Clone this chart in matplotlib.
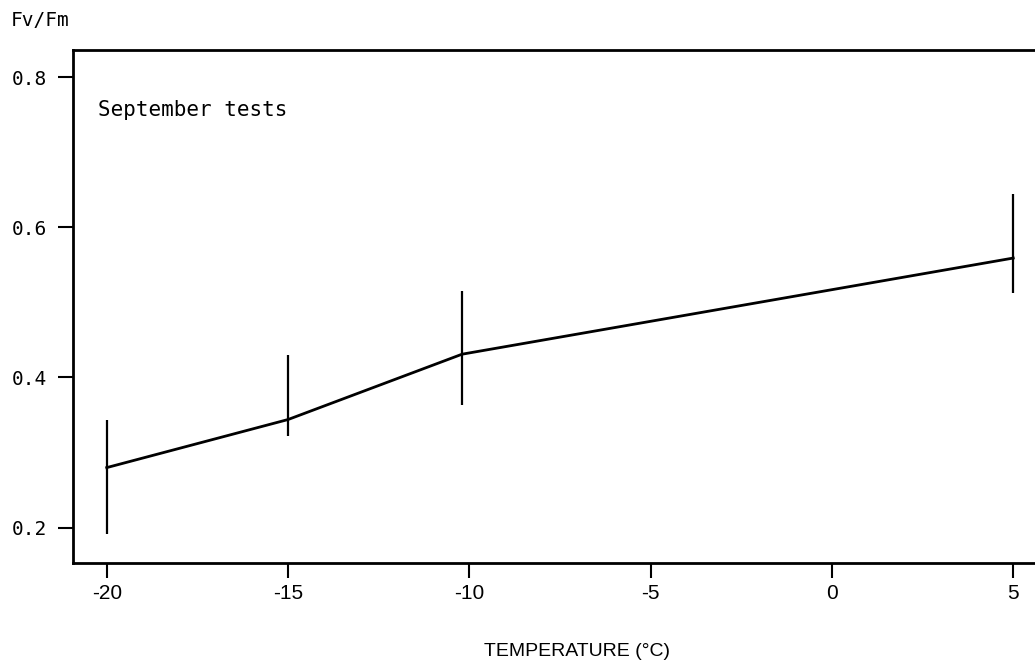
import matplotlib
matplotlib.use("Agg")
from matplotlib import pyplot as plt

# temperature (deg C) and Fv/Fm mean with error bar ends
temp = [-20, -15, -10.2, 5]
fvfm = [0.280, 0.344, 0.431, 0.559]
err_lo = [0.192, 0.322, 0.364, 0.513]
err_hi = [0.344, 0.430, 0.515, 0.644]

xticks = [-20, -15, -10, -5, 0, 5]
xticklabels = ["-20", "-15", "-10", "-5", "0", "5"]
yticks = [0.2, 0.4, 0.6, 0.8]
yticklabels = ["0.2", "0.4", "0.6", "0.8"]

fig = plt.figure(figsize=(10.35, 6.69), dpi=100)
ax = fig.add_axes([73/1035, 1 - 563/669, 1 - 73/1035, (563 - 50)/669])

ax.plot(temp, fvfm, color="black", lw=2.0)
ax.vlines(temp, err_lo, err_hi, color="black", lw=1.6)

ax.set_xlim(-20.93, 5.6)
ax.set_ylim(0.153, 0.836)

ax.spines["right"].set_visible(False)
for s in ["left", "bottom", "top"]:
    ax.spines[s].set_linewidth(2.0)

ax.set_xticks(xticks)
ax.set_xticklabels(xticklabels, fontfamily="Liberation Sans", fontsize=15)
ax.set_yticks(yticks)
ax.set_yticklabels(yticklabels, fontfamily="DejaVu Sans Mono", fontsize=14)
ax.tick_params(axis="x", direction="out", length=11, width=1.5, pad=4)
ax.tick_params(axis="y", direction="out", length=11, width=1.5, pad=8)

ax.text(0.026, 0.883, "September tests", transform=ax.transAxes,
        fontfamily="DejaVu Sans Mono", fontsize=15, va="center", ha="left")

fig.text(11/1035, 1 - 21/669, "Fv/Fm", fontfamily="DejaVu Sans Mono",
         fontsize=14, ha="left", va="center")
fig.text(577/1035, 1 - 652/669, "TEMPERATURE (°C)", fontfamily="Liberation Sans",
         fontsize=14, ha="center", va="center")

fig.savefig("out.png", dpi=100)
